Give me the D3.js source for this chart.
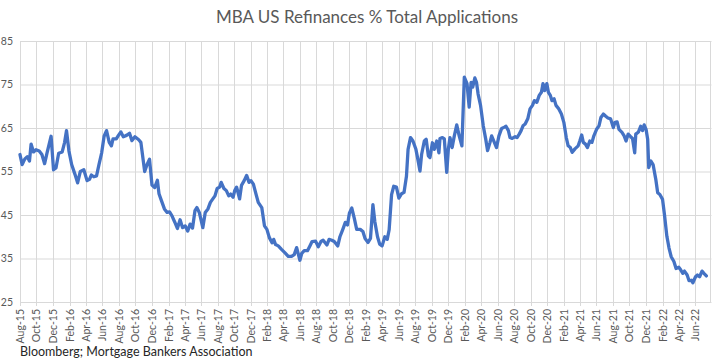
<!DOCTYPE html>
<html><head><meta charset="utf-8">
<script src="https://cdn.jsdelivr.net/npm/d3@7"></script>
<style>html,body{margin:0;padding:0;background:#fff;overflow:hidden}</style>
</head><body>
<svg id="c" width="713" height="360"></svg>
<script>
const title = "MBA US Refinances % Total Applications";
const source = "Bloomberg; Mortgage Bankers Association";
const yTicks = [25, 35, 45, 55, 65, 75, 85];
const xTickLabels = ["Aug-15","Oct-15","Dec-15","Feb-16","Apr-16","Jun-16","Aug-16","Oct-16","Dec-16","Feb-17","Apr-17","Jun-17","Aug-17","Oct-17","Dec-17","Feb-18","Apr-18","Jun-18","Aug-18","Oct-18","Dec-18","Feb-19","Apr-19","Jun-19","Aug-19","Oct-19","Dec-19","Feb-20","Apr-20","Jun-20","Aug-20","Oct-20","Dec-20","Feb-21","Apr-21","Jun-21","Aug-21","Oct-21","Dec-21","Feb-22","Apr-22","Jun-22"];
const dates = [
"2015-08-01","2015-08-09","2015-08-19","2015-08-28","2015-09-05","2015-09-11","2015-09-20","2015-09-29","2015-10-11","2015-10-21","2015-10-31","2015-11-09","2015-11-24","2015-12-03","2015-12-12","2015-12-22",
"2016-01-04","2016-01-13","2016-01-20","2016-01-29","2016-02-08","2016-02-20","2016-03-01","2016-03-11","2016-03-24","2016-04-05","2016-04-14","2016-04-21","2016-04-30","2016-05-10","2016-05-19","2016-05-29",
"2016-06-07","2016-06-16","2016-06-26","2016-07-04","2016-07-10","2016-07-22","2016-07-30","2016-08-08","2016-08-17","2016-08-29","2016-09-09","2016-09-18","2016-09-29","2016-10-13","2016-10-21","2016-11-04",
"2016-11-13","2016-11-22","2016-12-01","2016-12-11","2016-12-21","2016-12-27","2017-01-05","2017-01-16","2017-01-26","2017-02-04","2017-02-13","2017-02-23","2017-03-05","2017-03-15","2017-03-24","2017-04-03",
"2017-04-12","2017-04-21","2017-04-30","2017-05-09","2017-05-16","2017-05-25","2017-06-07","2017-06-16","2017-06-26","2017-07-05","2017-07-14","2017-07-22","2017-07-30","2017-08-08","2017-08-14","2017-08-24",
"2017-09-02","2017-09-11","2017-09-18","2017-09-27","2017-10-03","2017-10-10","2017-10-21","2017-10-28","2017-11-07","2017-11-16","2017-11-25","2017-12-02","2017-12-11","2017-12-19","2017-12-29","2018-01-11",
"2018-01-21","2018-01-30","2018-02-08","2018-02-18","2018-02-24","2018-03-03","2018-03-13","2018-03-25","2018-04-07","2018-04-19","2018-05-01","2018-05-11","2018-05-20",
"2018-06-01","2018-06-08","2018-06-17","2018-06-29","2018-07-08","2018-07-16","2018-07-29","2018-08-08","2018-08-18","2018-08-26","2018-09-09","2018-09-17","2018-09-27","2018-10-06","2018-10-19","2018-10-27",
"2018-11-06","2018-11-16","2018-11-24","2018-12-01","2018-12-10","2018-12-19","2018-12-28","2019-01-10","2019-01-20","2019-01-28","2019-02-08","2019-02-17","2019-02-26","2019-03-05","2019-03-15","2019-03-23",
"2019-04-01","2019-04-11","2019-04-20","2019-04-27","2019-05-06","2019-05-14","2019-05-24","2019-06-02","2019-06-12","2019-06-21","2019-06-30","2019-07-06","2019-07-15","2019-07-24","2019-08-04","2019-08-10",
"2019-08-19","2019-08-25","2019-09-04","2019-09-11","2019-09-19","2019-09-25","2019-10-04","2019-10-11","2019-10-20","2019-10-28",
"2019-11-01","2019-11-10","2019-11-17","2019-11-26","2019-12-02","2019-12-08","2019-12-16","2019-12-24","2020-01-02","2020-01-11","2020-01-21","2020-01-30","2020-02-09","2020-02-17","2020-02-24","2020-03-01",
"2020-03-09","2020-03-15","2020-03-21","2020-03-30","2020-04-09","2020-04-18","2020-04-25","2020-05-04","2020-05-10","2020-05-20","2020-05-28","2020-06-06","2020-06-16","2020-06-26","2020-07-02","2020-07-11",
"2020-07-17","2020-07-25","2020-08-05","2020-08-12","2020-08-20","2020-08-27","2020-09-03","2020-09-11","2020-09-21","2020-09-29","2020-10-08","2020-10-15","2020-10-24","2020-11-02","2020-11-10","2020-11-16",
"2020-11-22","2020-11-30","2020-12-06","2020-12-13","2020-12-19","2020-12-27","2021-01-03","2021-01-13","2021-01-23","2021-02-01","2021-02-10","2021-02-17","2021-02-25","2021-03-04","2021-03-14","2021-03-26",
"2021-04-01","2021-04-08","2021-04-14","2021-04-22","2021-04-29","2021-05-08","2021-05-16","2021-05-23","2021-06-02","2021-06-11","2021-06-18","2021-06-27","2021-07-06","2021-07-14","2021-07-24","2021-08-03",
"2021-08-09","2021-08-17","2021-08-24","2021-09-04","2021-09-12","2021-09-19","2021-09-27","2021-10-06","2021-10-13","2021-10-21","2021-10-25","2021-11-04","2021-11-12","2021-11-19","2021-11-25","2021-12-02",
"2021-12-08","2021-12-12","2021-12-20","2021-12-28","2022-01-07","2022-01-14","2022-01-22","2022-02-01","2022-02-08","2022-02-17","2022-02-25","2022-03-05","2022-03-15","2022-03-23","2022-04-02","2022-04-09",
"2022-04-17","2022-04-23","2022-05-03","2022-05-10","2022-05-19","2022-05-24","2022-06-03","2022-06-10","2022-06-18","2022-06-27","2022-07-04","2022-07-13"
];
const refiShare = [
58.9,56.6,57.9,58.4,57.4,61.3,59.5,60.0,59.7,58.9,56.8,59.3,63.1,55.4,55.8,59.2,
59.5,61.7,64.4,59.7,56.6,54.4,52.4,55.0,55.4,52.9,53.2,54.2,53.8,54.0,56.6,59.3,
63.1,64.4,61.7,60.9,62.5,62.5,63.3,64.1,63.0,63.3,63.8,62.1,63.0,62.3,61.7,55.0,
56.6,57.8,51.9,51.3,53.0,49.9,48.3,46.4,45.6,45.7,44.8,43.4,41.9,43.9,42.1,42.5,
41.3,42.9,42.0,46.0,46.7,45.6,42.1,45.6,46.4,47.9,48.7,49.4,51.1,51.4,52.5,51.1,
50.6,49.4,49.8,49.1,50.6,51.4,48.7,51.8,52.9,54.1,52.5,52.9,52.1,50.2,47.9,46.7,
42.5,41.7,39.8,38.6,39.4,38.2,37.9,37.1,36.3,35.5,35.5,35.9,37.5,
34.6,36.2,36.8,36.8,37.9,38.9,39.0,37.7,38.9,39.2,38.1,39.4,39.2,38.9,37.9,40.0,
41.6,43.3,42.7,45.4,46.6,44.3,41.7,41.7,41.2,39.6,38.7,39.6,47.4,43.5,40.0,38.3,
37.9,40.0,39.4,41.6,49.7,51.6,51.4,48.9,49.9,50.2,53.9,60.1,62.8,62.0,60.1,58.2,
55.1,58.9,62.0,62.4,58.6,58.2,61.6,60.1,62.0,59.3,
62.6,62.8,62.5,54.8,60.2,62.8,60.5,63.2,65.7,63.2,60.9,76.7,75.2,69.8,75.5,74.4,
76.5,75.5,72.8,70.2,65.5,62.5,59.8,61.7,63.2,61.7,60.5,63.2,64.9,65.2,65.4,64.4,
62.8,62.6,63.0,62.8,63.6,64.4,65.5,65.9,67.2,69.4,70.2,71.3,70.9,72.5,73.2,75.2,
73.6,75.2,73.2,72.5,71.3,71.7,70.2,69.4,68.2,66.3,62.8,60.9,60.5,59.4,60.2,60.9,
62.0,63.4,61.7,61.3,60.5,62.0,61.7,63.2,64.7,65.5,67.4,68.2,67.7,67.3,67.1,65.1,
66.3,66.4,64.7,64.0,63.2,62.0,63.6,63.0,62.6,59.3,63.6,64.1,65.4,64.4,65.7,64.7,
62.4,55.9,57.4,56.6,53.2,50.1,49.7,48.6,45.1,40.1,37.4,35.4,34.3,32.7,33.0,32.4,
31.6,32.1,31.2,29.9,30.0,29.4,30.8,31.2,30.8,32.1,31.6,31.0
];

const parse = d3.timeParse("%Y-%m-%d");
const fmt = d3.timeFormat("%b-%y");
const data = dates.map((d, i) => ({date: parse(d), v: refiShare[i]}));

const svg = d3.select("#c");
const grid = "#d9d9d9", textCol = "#595959";
const font = "Lato, 'Open Sans', sans-serif";
const x = d3.scaleTime().domain([parse("2015-08-01"), parse("2022-06-01")]).range([20, 695]);
const y = d3.scaleLinear().domain([25, 85]).range([302, 41]);
const xEnd = x(parse("2022-08-01"));

const tickDates = xTickLabels.map(s => d3.timeParse("%b-%y")(s));

// horizontal gridlines
svg.append("g").selectAll("line").data(yTicks).join("line")
  .attr("x1", x.range()[0]).attr("x2", xEnd)
  .attr("y1", d => y(d) + 0.5).attr("y2", d => y(d) + 0.5)
  .attr("stroke", grid).attr("stroke-width", 1);

// vertical gridlines
svg.append("g").selectAll("line").data(tickDates).join("line")
  .attr("x1", d => Math.round(x(d)) + 0.5).attr("x2", d => Math.round(x(d)) + 0.5)
  .attr("y1", y(85)).attr("y2", y(25) + 4)
  .attr("stroke", grid).attr("stroke-width", 1);

// right border
svg.append("line").attr("x1", Math.round(xEnd) - 0.5).attr("x2", Math.round(xEnd) - 0.5)
  .attr("y1", y(85)).attr("y2", y(25)).attr("stroke", grid);

// y labels
svg.append("g").selectAll("text").data(yTicks).join("text")
  .attr("x", 13).attr("y", d => y(d)).attr("dy", "0.35em")
  .attr("text-anchor", "end").attr("font-family", font)
  .attr("font-size", 10.5).attr("fill", textCol).text(d => d);

// x labels
svg.append("g").selectAll("text").data(tickDates).join("text")
  .attr("transform", d => `translate(${Math.round(x(d)) + 0.5},309) rotate(-90)`)
  .attr("dy", "0.35em").attr("text-anchor", "end")
  .attr("font-family", font)
  .attr("font-size", 10.5).attr("fill", textCol).text(d => fmt(d));

// line
const line = d3.line().x(d => x(d.date)).y(d => y(d.v));
svg.append("path").datum(data).attr("d", line)
  .attr("fill", "none").attr("stroke", "#4472c4").attr("stroke-width", 3.3)
  .attr("stroke-linejoin", "round").attr("stroke-linecap", "round");

// title
svg.append("text").attr("x", 367).attr("y", 23).attr("text-anchor", "middle")
  .attr("font-family", font).attr("font-size", 17)
  .attr("fill", textCol).text(title);

// source
svg.append("text").attr("x", 20).attr("y", 356)
  .attr("font-family", font).attr("font-size", 12.5)
  .attr("fill", "#262626").text(source);
</script>
</body></html>
